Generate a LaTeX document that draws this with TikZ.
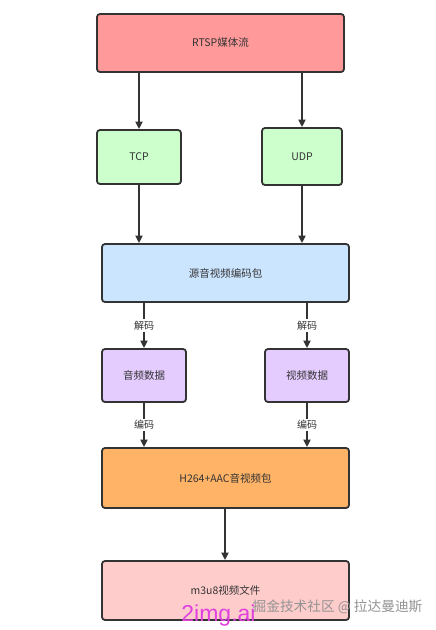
\documentclass[tikz,border=0pt]{standalone}
\usepackage{fontspec}
\setmainfont{Noto Sans CJK SC}
\newfontfamily\sitefont{Liberation Sans}
\usetikzlibrary{arrows.meta}
\definecolor{boxline}{HTML}{333333}
\definecolor{rtspfill}{HTML}{FF999A}
\definecolor{netfill}{HTML}{CCFFCC}
\definecolor{srcfill}{HTML}{CCE5FF}
\definecolor{datafill}{HTML}{E5CCFF}
\definecolor{encfill}{HTML}{FFB366}
\definecolor{filefill}{HTML}{FFCCCC}
\definecolor{sitecolor}{HTML}{E040E0}
\tikzset{
  flowbox/.style={draw=boxline, line width=1.8pt, rounded corners=3pt,
    inner sep=0pt, text=boxline, font=\fontsize{10.5}{12}\selectfont},
  flowarrow/.style={draw=boxline, line width=1.8pt,
    -{Triangle[length=7.5pt,width=7pt]}},
  steplabel/.style={fill=white, inner sep=1.5pt, text=boxline,
    font=\fontsize{10}{11}\selectfont}
}
\begin{document}
\begin{tikzpicture}[x=1pt,y=-1pt]
                \useasboundingbox[fill=white] (0,0) rectangle (436,630);
                
                % Drawing box RTSP stream
                \node [flowbox, fill=rtspfill, minimum width=247pt, minimum height=58pt] (rtsp) at (220.5,43) {RTSP媒体流};
                
                % Drawing boxes TCP and UDP
                \node [flowbox, fill=netfill, minimum width=84pt, minimum height=54pt] (tcp) at (139,157) {TCP};
                \node [flowbox, fill=netfill, minimum width=80pt, minimum height=57pt] (udp) at (302,156.5) {UDP};
                
                % Drawing box source packets
                \node [flowbox, fill=srcfill, minimum width=247pt, minimum height=58pt] (src) at (225.5,273) {源音视频编码包};
                
                % Drawing boxes audio and video data
                \node [flowbox, fill=datafill, minimum width=84pt, minimum height=53pt] (audio) at (144,375.5) {音频数据};
                \node [flowbox, fill=datafill, minimum width=84pt, minimum height=53pt] (video) at (307,375.5) {视频数据};
                
                % Drawing box H264+AAC packets
                \node [flowbox, fill=encfill, minimum width=247pt, minimum height=60pt] (enc) at (225.5,478) {H264+AAC音视频包};
                
                % Drawing box m3u8 file
                \node [flowbox, fill=filefill, minimum width=247pt, minimum height=59pt] (file) at (225.5,590.5) {m3u8视频文件};
                
                % Drawing arrows RTSP to TCP, UDP
                \draw [flowarrow] (rtsp.south -| tcp.north) -- (tcp.north);
                \draw [flowarrow] (rtsp.south -| udp.north) -- (udp.north);
                
                % Drawing arrows TCP, UDP to source
                \draw [flowarrow] (tcp.south) -- (tcp.south |- src.north);
                \draw [flowarrow] (udp.south) -- (udp.south |- src.north);
                
                % Drawing arrows source to audio, video (decode)
                \draw [flowarrow] (src.south -| audio.north) -- node [steplabel] {解码} (audio.north);
                \draw [flowarrow] (src.south -| video.north) -- node [steplabel] {解码} (video.north);
                
                % Drawing arrows audio, video to H264 (encode)
                \draw [flowarrow] (audio.south) -- node [steplabel] {编码} (audio.south |- enc.north);
                \draw [flowarrow] (video.south) -- node [steplabel] {编码} (video.south |- enc.north);
                
                % Drawing arrow H264 to m3u8
                \draw [flowarrow] ([xshift=-0.5pt]enc.south) -- ([xshift=-0.5pt]file.north);
                
                % Marking watermarks
                \node [text=gray!85, font=\fontsize{13.7}{15}\selectfont] (mark) at (337.5,607) {掘金技术社区 @ 拉达曼迪斯};
                \node [text=sitecolor, font=\sitefont\fontsize{23}{26}\selectfont] (site) at (218.5,616) {2img.ai};
            \end{tikzpicture}
\end{document}
